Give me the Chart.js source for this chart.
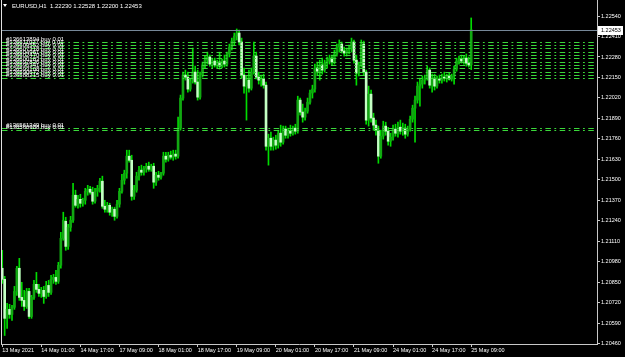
<!DOCTYPE html>
<html>
<head>
<meta charset="utf-8">
<script src="https://cdn.jsdelivr.net/npm/chart.js@4.4.1/dist/chart.umd.min.js"></script>
<style>
  html, body { margin: 0; padding: 0; background: #000; }
  #wrap { width: 625px; height: 357px; }
</style>
</head>
<body>
<div id="wrap"><canvas id="mainChart" width="625" height="357"></canvas></div>
<script>
// ============================
// Data (EURUSD H1)
// ============================
const chartTitle = "EURUSD,H1  1.22230 1.22528 1.22200 1.22453";

const xTickLabels = ["13 May 2021", "14 May 01:00", "14 May 17:00", "17 May 09:00", "18 May 01:00",
  "18 May 17:00", "19 May 09:00", "20 May 01:00", "20 May 17:00", "21 May 09:00",
  "24 May 01:00", "24 May 17:00", "25 May 09:00"];
const barsPerTick = 16;
const totalSlots = 244;

const openPrices = [
  1.20938, 1.20868, 1.20620, 1.20677, 1.20645, 1.20690, 1.20791, 1.20938, 1.20753, 1.20734,
  1.20696, 1.20791, 1.20632, 1.20753, 1.20836, 1.20804, 1.20779, 1.20798, 1.20759, 1.20829,
  1.20785, 1.20868, 1.20880, 1.20855, 1.20957, 1.21128, 1.21236, 1.21077, 1.21198, 1.21243,
  1.21402, 1.21338, 1.21376, 1.21351, 1.21370, 1.21427, 1.21440, 1.21421, 1.21364, 1.21427,
  1.21446, 1.21491, 1.21332, 1.21313, 1.21338, 1.21294, 1.21313, 1.21268, 1.21345, 1.21427,
  1.21497, 1.21542, 1.21650, 1.21624, 1.21395, 1.21434, 1.21523, 1.21561, 1.21548, 1.21574,
  1.21586, 1.21567, 1.21586, 1.21485, 1.21529, 1.21516, 1.21542, 1.21650, 1.21631, 1.21656,
  1.21644, 1.21663, 1.21650, 1.21828, 1.22019, 1.22165, 1.22152, 1.22076, 1.22127, 1.22184,
  1.22121, 1.22025, 1.22165, 1.22229, 1.22260, 1.22280, 1.22235, 1.22254, 1.22229, 1.22248,
  1.22222, 1.22254, 1.22235, 1.22299, 1.22343, 1.22381, 1.22413, 1.22432, 1.22375, 1.22165,
  1.22095, 1.22133, 1.22082, 1.22184, 1.22286, 1.22152, 1.22133, 1.22140, 1.22101, 1.21713,
  1.21764, 1.21713, 1.21752, 1.21720, 1.21796, 1.21739, 1.21822, 1.21783, 1.21809, 1.21796,
  1.21828, 1.21809, 1.22006, 1.21930, 1.21898, 1.21936, 1.21993, 1.22051, 1.22076, 1.22210,
  1.22190, 1.22229, 1.22197, 1.22241, 1.22254, 1.22273, 1.22248, 1.22299, 1.22343, 1.22362,
  1.22318, 1.22305, 1.22324, 1.22337, 1.22375, 1.22260, 1.22178, 1.22229, 1.22362, 1.22184,
  1.21879, 1.22044, 1.21892, 1.21847, 1.21815, 1.21650, 1.21777, 1.21841, 1.21809, 1.21745,
  1.21771, 1.21822, 1.21796, 1.21834, 1.21809, 1.21828, 1.21790, 1.21822, 1.21885, 1.21955,
  1.22006, 1.22095, 1.22108, 1.22133, 1.22146, 1.22197, 1.22101, 1.22146, 1.22095, 1.22140,
  1.22133, 1.22152, 1.22146, 1.22159, 1.22140, 1.22159, 1.22203, 1.22254, 1.22267, 1.22254,
  1.22273, 1.22241, 1.22230
];
const highPrices = [
  1.21052, 1.20887, 1.20715, 1.20709, 1.20702, 1.20823, 1.20950, 1.21001, 1.20849, 1.20798,
  1.20810, 1.20810, 1.20766, 1.20861, 1.20912, 1.20836, 1.20817, 1.20823, 1.20855, 1.20861,
  1.20893, 1.20899, 1.20925, 1.20976, 1.21167, 1.21294, 1.21262, 1.21217, 1.21268, 1.21478,
  1.21434, 1.21402, 1.21408, 1.21383, 1.21446, 1.21465, 1.21459, 1.21453, 1.21446, 1.21465,
  1.21510, 1.21523, 1.21370, 1.21357, 1.21351, 1.21326, 1.21326, 1.21370, 1.21446, 1.21535,
  1.21561, 1.21688, 1.21688, 1.21656, 1.21465, 1.21548, 1.21586, 1.21593, 1.21586, 1.21605,
  1.21612, 1.21599, 1.21605, 1.21548, 1.21554, 1.21548, 1.21675, 1.21675, 1.21675, 1.21682,
  1.21688, 1.21688, 1.21898, 1.22038, 1.22184, 1.22197, 1.22184, 1.22146, 1.22337, 1.22222,
  1.22197, 1.22184, 1.22248, 1.22286, 1.22311, 1.22292, 1.22273, 1.22273, 1.22260, 1.22311,
  1.22267, 1.22292, 1.22311, 1.22362, 1.22400, 1.22432, 1.22458, 1.22451, 1.22400, 1.22210,
  1.22159, 1.22197, 1.22210, 1.22375, 1.22311, 1.22184, 1.22165, 1.22171, 1.22121, 1.21790,
  1.21803, 1.21771, 1.21783, 1.21815, 1.21847, 1.21841, 1.21841, 1.21828, 1.21847, 1.21841,
  1.21853, 1.22031, 1.22019, 1.21981, 1.21955, 1.22019, 1.22070, 1.22101, 1.22235, 1.22248,
  1.22260, 1.22273, 1.22260, 1.22280, 1.22292, 1.22292, 1.22324, 1.22362, 1.22388, 1.22375,
  1.22343, 1.22337, 1.22356, 1.22400, 1.22388, 1.22292, 1.22248, 1.22388, 1.22381, 1.22197,
  1.22095, 1.22070, 1.21923, 1.21879, 1.21841, 1.21815, 1.21872, 1.21866, 1.21834, 1.21796,
  1.21847, 1.21853, 1.21866, 1.21879, 1.21860, 1.21853, 1.21841, 1.21904, 1.21974, 1.22031,
  1.22121, 1.22146, 1.22159, 1.22165, 1.22222, 1.22210, 1.22171, 1.22171, 1.22159, 1.22165,
  1.22171, 1.22184, 1.22171, 1.22178, 1.22171, 1.22222, 1.22273, 1.22286, 1.22292, 1.22286,
  1.22299, 1.22280, 1.22528
];
const lowPrices = [
  1.20842, 1.20511, 1.20556, 1.20620, 1.20607, 1.20677, 1.20766, 1.20734, 1.20696, 1.20670,
  1.20683, 1.20620, 1.20620, 1.20740, 1.20785, 1.20759, 1.20753, 1.20715, 1.20747, 1.20759,
  1.20772, 1.20842, 1.20836, 1.20842, 1.20938, 1.21116, 1.21052, 1.21058, 1.21173, 1.21230,
  1.21326, 1.21319, 1.21326, 1.21332, 1.21345, 1.21402, 1.21408, 1.21345, 1.21351, 1.21395,
  1.21421, 1.21319, 1.21294, 1.21294, 1.21275, 1.21268, 1.21243, 1.21256, 1.21326, 1.21415,
  1.21472, 1.21510, 1.21612, 1.21370, 1.21376, 1.21421, 1.21497, 1.21529, 1.21529, 1.21548,
  1.21554, 1.21554, 1.21446, 1.21465, 1.21497, 1.21504, 1.21529, 1.21612, 1.21618, 1.21631,
  1.21624, 1.21631, 1.21637, 1.21815, 1.22006, 1.22133, 1.22057, 1.22063, 1.22114, 1.22108,
  1.22006, 1.22012, 1.22152, 1.22210, 1.22235, 1.22222, 1.22210, 1.22216, 1.22210, 1.22203,
  1.22210, 1.22216, 1.22222, 1.22280, 1.22324, 1.22356, 1.22388, 1.22356, 1.22146, 1.22051,
  1.21879, 1.22057, 1.22070, 1.22171, 1.22140, 1.22108, 1.22095, 1.22082, 1.21688, 1.21593,
  1.21688, 1.21688, 1.21694, 1.21701, 1.21713, 1.21726, 1.21764, 1.21764, 1.21777, 1.21783,
  1.21790, 1.21796, 1.21911, 1.21866, 1.21879, 1.21923, 1.21981, 1.22019, 1.22057, 1.22165,
  1.22133, 1.22171, 1.22184, 1.22210, 1.22235, 1.22229, 1.22235, 1.22286, 1.22311, 1.22305,
  1.22286, 1.22286, 1.22299, 1.22311, 1.22241, 1.22101, 1.22159, 1.22216, 1.22165, 1.21853,
  1.21841, 1.21866, 1.21815, 1.21783, 1.21605, 1.21637, 1.21758, 1.21783, 1.21720, 1.21713,
  1.21752, 1.21777, 1.21771, 1.21790, 1.21783, 1.21764, 1.21777, 1.21809, 1.21866, 1.21739,
  1.21987, 1.21968, 1.22082, 1.22108, 1.22133, 1.22082, 1.22057, 1.22070, 1.22082, 1.22114,
  1.22114, 1.22127, 1.22121, 1.22133, 1.22127, 1.22108, 1.22190, 1.22235, 1.22241, 1.22235,
  1.22222, 1.22216, 1.22200
];
const closePrices = [
  1.20868, 1.20620, 1.20677, 1.20645, 1.20690, 1.20791, 1.20938, 1.20753, 1.20734, 1.20696,
  1.20791, 1.20632, 1.20753, 1.20836, 1.20804, 1.20779, 1.20798, 1.20759, 1.20829, 1.20785,
  1.20868, 1.20880, 1.20855, 1.20957, 1.21128, 1.21243, 1.21077, 1.21198, 1.21243, 1.21402,
  1.21338, 1.21376, 1.21351, 1.21370, 1.21427, 1.21440, 1.21421, 1.21364, 1.21427, 1.21446,
  1.21491, 1.21332, 1.21313, 1.21338, 1.21294, 1.21313, 1.21268, 1.21345, 1.21427, 1.21497,
  1.21542, 1.21650, 1.21624, 1.21395, 1.21434, 1.21523, 1.21561, 1.21548, 1.21574, 1.21586,
  1.21567, 1.21586, 1.21485, 1.21529, 1.21516, 1.21542, 1.21650, 1.21631, 1.21656, 1.21644,
  1.21663, 1.21650, 1.21828, 1.22019, 1.22165, 1.22152, 1.22076, 1.22127, 1.22184, 1.22121,
  1.22025, 1.22165, 1.22229, 1.22260, 1.22280, 1.22235, 1.22254, 1.22229, 1.22248, 1.22222,
  1.22254, 1.22235, 1.22299, 1.22343, 1.22381, 1.22413, 1.22432, 1.22375, 1.22165, 1.22095,
  1.22133, 1.22082, 1.22184, 1.22286, 1.22152, 1.22133, 1.22140, 1.22101, 1.21713, 1.21764,
  1.21713, 1.21752, 1.21720, 1.21796, 1.21739, 1.21822, 1.21783, 1.21809, 1.21796, 1.21828,
  1.21809, 1.22006, 1.21930, 1.21898, 1.21936, 1.21993, 1.22051, 1.22076, 1.22210, 1.22190,
  1.22229, 1.22197, 1.22241, 1.22254, 1.22273, 1.22248, 1.22299, 1.22343, 1.22362, 1.22318,
  1.22305, 1.22324, 1.22337, 1.22375, 1.22260, 1.22178, 1.22229, 1.22362, 1.22184, 1.21879,
  1.22044, 1.21892, 1.21847, 1.21815, 1.21650, 1.21777, 1.21841, 1.21809, 1.21745, 1.21771,
  1.21822, 1.21796, 1.21834, 1.21809, 1.21828, 1.21790, 1.21822, 1.21885, 1.21955, 1.22006,
  1.22095, 1.22108, 1.22133, 1.22146, 1.22197, 1.22101, 1.22146, 1.22095, 1.22140, 1.22133,
  1.22152, 1.22146, 1.22159, 1.22140, 1.22159, 1.22203, 1.22254, 1.22267, 1.22254, 1.22273,
  1.22241, 1.22229, 1.22453
];

const yTicks = [1.22540, 1.22410, 1.22280, 1.22150, 1.22020, 1.21890, 1.21760, 1.21630, 1.21500,
  1.21370, 1.21240, 1.21110, 1.20980, 1.20850, 1.20720, 1.20590, 1.20460];
const yMin = 1.20457;
const yMax = 1.22642;

const bidPrice = 1.22453;

// open buy orders (horizontal order lines)
const orderPrices = [1.22377, 1.22356, 1.22335, 1.22313, 1.22292, 1.22271, 1.22249, 1.22228,
  1.22207, 1.22186, 1.22165, 1.22148, 1.21832, 1.21815];
const orderTickets = [136613894, 136611027, 136609552, 136607318, 136604961, 136602470, 136600183,
  136597826, 136595341, 136593108, 136590672, 136588215, 136561349, 136560988];
const orderLots = "0.01";

// ============================
// Helpers
// ============================
const FONT_FAMILY = "'Liberation Sans', Arial, sans-serif";
const AXIS_COLOR = "#c8c8c8";

const slotLabels = [];
for (let i = 0; i < totalSlots; i++) {
  const k = i / barsPerTick;
  slotLabels.push(i % barsPerTick === 0 && xTickLabels[k] ? xTickLabels[k] : "");
}

const wickData = lowPrices.map((l, i) => [l, highPrices[i]]);
const bodyData = openPrices.map((o, i) => [o, closePrices[i]]);

// bull candle = dark body, bear candle = pale body (MT4 green-on-black)
function bodyColor(ctx) {
  const i = ctx.dataIndex;
  if (i === undefined) return "#12a812";
  return closePrices[i] >= openPrices[i] ? "#12a812" : "#c4ffc4";
}

// no extra padding for edge tick labels, keeps the plot area full height
function noEdgePadding(s) {
  s.paddingTop = 0;
  s.paddingBottom = 0;
  s.paddingLeft = 0;
  s.paddingRight = 0;
}

// ============================
// Overlay plugin: background, order lines, bid line, labels
// ============================
const overlayPlugin = {
  id: "mtOverlay",
  beforeDraw(chart) {
    const { ctx } = chart;
    ctx.save();
    ctx.fillStyle = "#000";
    ctx.fillRect(0, 0, chart.width, chart.height);
    ctx.restore();
  },
  afterDatasetsDraw(chart) {
    const { ctx, chartArea } = chart;
    const y = chart.scales.y;
    ctx.save();

    // bid line
    const by = Math.round(y.getPixelForValue(bidPrice)) + 0.5;
    ctx.strokeStyle = "#778899";
    ctx.lineWidth = 1;
    ctx.beginPath();
    ctx.moveTo(chartArea.left, by);
    ctx.lineTo(chartArea.right, by);
    ctx.stroke();

    // order lines, dash-dot
    ctx.setLineDash([5.5, 3.5, 1.8, 3.5]);
    orderPrices.forEach((p) => {
      const ly = Math.round(y.getPixelForValue(p)) + 0.5;
      ctx.strokeStyle = "#3ad83a";
      ctx.beginPath();
      ctx.moveTo(chartArea.left + 1, ly);
      ctx.lineTo(chartArea.right, ly);
      ctx.stroke();
    });
    ctx.setLineDash([]);

    // order labels
    ctx.font = "6px " + FONT_FAMILY;
    ctx.fillStyle = "#ffffff";
    ctx.textAlign = "left";
    ctx.textBaseline = "alphabetic";
    orderPrices.forEach((p, i) => {
      const ly = y.getPixelForValue(p);
      ctx.fillText("#" + orderTickets[i] + " buy " + orderLots, chartArea.left + 5, ly - 1);
    });
    ctx.restore();
  },
  afterDraw(chart) {
    const { ctx, chartArea } = chart;
    const y = chart.scales.y;
    ctx.save();

    // left frame line
    ctx.strokeStyle = "#e0e0e0";
    ctx.lineWidth = 1;
    ctx.beginPath();
    ctx.moveTo(chartArea.left + 0.5, 0);
    ctx.lineTo(chartArea.left + 0.5, chartArea.bottom);
    ctx.stroke();

    // current price box on the axis
    const by = Math.round(y.getPixelForValue(bidPrice));
    ctx.fillStyle = "#ffffff";
    ctx.fillRect(chartArea.right + 1, by - 4, 25, 9);
    ctx.fillStyle = "#000";
    ctx.font = "5.5px " + FONT_FAMILY;
    ctx.textBaseline = "middle";
    ctx.textAlign = "left";
    ctx.fillText(bidPrice.toFixed(5), chartArea.right + 4, by + 0.5);

    // title with small triangle
    ctx.fillStyle = "#ffffff";
    ctx.beginPath();
    ctx.moveTo(3, 4);
    ctx.lineTo(7, 4);
    ctx.lineTo(5, 7);
    ctx.closePath();
    ctx.fill();
    ctx.font = "6px " + FONT_FAMILY;
    ctx.fillText(chartTitle, 12, 6);

    ctx.restore();
  }
};

// ============================
// Chart
// ============================
const canvas = document.getElementById("mainChart");
const ctx = canvas.getContext("2d");

const mainChart = new Chart(ctx, {
  type: "bar",
  data: {
    labels: slotLabels,
    datasets: [
      {
        label: "wick",
        data: wickData,
        backgroundColor: "#00dc00",
        barThickness: 1,
        grouped: false,
        order: 2
      },
      {
        label: "body",
        data: bodyData,
        backgroundColor: bodyColor,
        barThickness: 2,
        minBarLength: 1,
        grouped: false,
        order: 1
      }
    ]
  },
  options: {
    responsive: false,
    animation: false,
    devicePixelRatio: 1,
    layout: { padding: { left: 1, right: 0, top: 0, bottom: 0 } },
    plugins: {
      legend: { display: false },
      tooltip: { enabled: false }
    },
    scales: {
      x: {
        type: "category",
        offset: true,
        grid: {
          offset: false,
          drawOnChartArea: false,
          drawTicks: true,
          tickLength: 3,
          color: (c) => (c.tick && c.tick.label ? AXIS_COLOR : "rgba(0,0,0,0)")
        },
        border: { display: true, color: AXIS_COLOR, width: 1 },
        ticks: {
          autoSkip: false,
          maxRotation: 0,
          minRotation: 0,
          align: "start",
          padding: 0,
          color: "#ffffff",
          font: { family: FONT_FAMILY, size: 5.5 }
        },
        afterFit: (s) => { s.height = 13; noEdgePadding(s); }
      },
      y: {
        position: "right",
        min: yMin,
        max: yMax,
        afterBuildTicks: (s) => { s.ticks = yTicks.map((v) => ({ value: v })); },
        grid: {
          drawOnChartArea: false,
          drawTicks: true,
          tickLength: 3,
          color: AXIS_COLOR
        },
        border: { display: true, color: AXIS_COLOR, width: 1 },
        ticks: {
          padding: 1,
          color: "#ffffff",
          font: { family: FONT_FAMILY, size: 5.5 },
          callback: (v) => Number(v).toFixed(5)
        },
        afterFit: (s) => { s.width = 28; noEdgePadding(s); }
      }
    }
  },
  plugins: [overlayPlugin]
});
</script>
</body>
</html>
